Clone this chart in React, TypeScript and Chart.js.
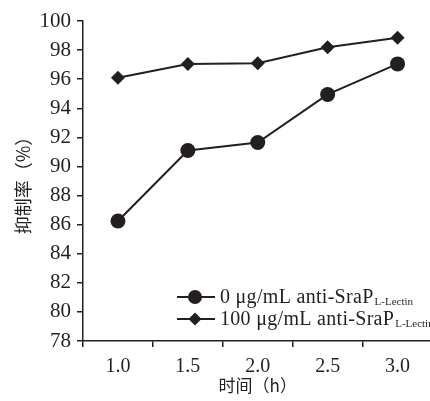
import React, { useEffect, useRef } from 'react';
import { Chart, registerables } from 'chart.js';

Chart.register(...registerables);

const timeLabels = ['1.0', '1.5', '2.0', '2.5', '3.0'];
const controlValues = [86.25, 91.1, 91.65, 94.95, 97.05];
const antibodyValues = [96.1, 97.05, 97.1, 98.2, 98.85];
const yTicksMin = 78;
const yTicksMax = 100;
const yTickStep = 2;
const seriesMain = ['0 μg/mL anti-SraP', '100 μg/mL anti-SraP'];
const seriesSub = ['L-Lectin', 'L-Lectin'];
const seriesMarkers = ['circle', 'rectRot'];
const yTitle = '抑制率（%）';
const xTitle = '时间（h）';

const INK = '#231f20';
const SERIF = '"Liberation Serif", "DejaVu Serif", serif';
const CJK = '"Noto Sans CJK SC", "Noto Sans", sans-serif';

const legendPlugin = {
  id: 'subLegend',
  afterDraw(chart: any) {
    const ctx = chart.ctx;
    const area = chart.chartArea;
    const x0 = area.left + 94;
    const rows = [area.bottom - 44, area.bottom - 22];
    ctx.save();
    rows.forEach((y, i) => {
      ctx.strokeStyle = INK;
      ctx.fillStyle = INK;
      ctx.lineWidth = 2;
      ctx.beginPath();
      ctx.moveTo(x0, y);
      ctx.lineTo(x0 + 38, y);
      ctx.stroke();
      const cx = x0 + 18;
      ctx.beginPath();
      if (seriesMarkers[i] === 'circle') {
        ctx.arc(cx, y, 7, 0, Math.PI * 2);
      } else {
        const r = 6.5;
        ctx.moveTo(cx, y - r);
        ctx.lineTo(cx + r, y);
        ctx.lineTo(cx, y + r);
        ctx.lineTo(cx - r, y);
        ctx.closePath();
      }
      ctx.fill();
      ctx.textBaseline = 'alphabetic';
      ctx.textAlign = 'left';
      ctx.font = `20px ${SERIF}`;
      (ctx as any).letterSpacing = '0.3px';
      const tx = x0 + 43;
      const base = y + 6;
      ctx.fillText(seriesMain[i], tx, base);
      const w = ctx.measureText(seriesMain[i]).width;
      (ctx as any).letterSpacing = '0px';
      ctx.font = `11px ${SERIF}`;
      ctx.fillText(seriesSub[i], tx + w + 1, base + 2);
    });
    ctx.restore();
  },
};

export default function App() {
  const canvasRef = useRef<HTMLCanvasElement | null>(null);

  useEffect(() => {
    if (!canvasRef.current) return;
    const chart = new Chart(canvasRef.current, {
      type: 'line',
      data: {
        labels: timeLabels,
        datasets: [
          {
            label: seriesMain[0] + seriesSub[0],
            data: controlValues,
            borderColor: INK,
            backgroundColor: INK,
            borderWidth: 2,
            pointStyle: 'circle',
            pointRadius: 7.5,
            pointBorderWidth: 0,
            tension: 0,
          },
          {
            label: seriesMain[1] + seriesSub[1],
            data: antibodyValues,
            borderColor: INK,
            backgroundColor: INK,
            borderWidth: 2,
            pointStyle: 'rectRot',
            pointRadius: 7,
            pointBorderWidth: 0,
            tension: 0,
          },
        ],
      },
      options: {
        animation: false,
        responsive: false,
        maintainAspectRatio: false,
        layout: { padding: { top: 21, right: 0, left: 0, bottom: 0 } },
        plugins: {
          legend: { display: false },
          tooltip: { enabled: false },
        },
        scales: {
          x: {
            type: 'category',
            offset: true,
            grid: {
              offset: true,
              drawOnChartArea: false,
              tickLength: 6,
              color: INK,
              lineWidth: 1.5,
            },
            border: { color: INK, width: 1.5 },
            ticks: { color: INK, font: { family: SERIF, size: 20 }, padding: 8 },
            title: {
              display: true,
              text: xTitle,
              color: INK,
              font: { family: CJK, size: 17 },
              padding: { top: 0, bottom: 5 },
            },
            afterFit(scale: any) {
              scale.height = 60;
            },
          },
          y: {
            min: yTicksMin,
            max: yTicksMax,
            grid: {
              drawOnChartArea: false,
              tickLength: 6,
              color: INK,
              lineWidth: 1.5,
            },
            border: { color: INK, width: 1.5 },
            ticks: {
              stepSize: yTickStep,
              color: INK,
              font: { family: SERIF, size: 21 },
              padding: 6,
            },
            title: {
              display: true,
              text: yTitle,
              color: INK,
              font: { family: CJK, size: 18 },
              padding: { top: 12, bottom: 0 },
            },
            afterFit(scale: any) {
              scale.width = 83;
            },
          },
        },
      },
      plugins: [legendPlugin],
    });
    return () => chart.destroy();
  }, []);

  return (
    <div style={{ position: 'absolute', left: 0, top: 0, width: 430, height: 401, overflow: 'hidden', background: '#fff' }}>
      <canvas ref={canvasRef} width={440} height={401} style={{ width: 440, height: 401, display: 'block' }} />
    </div>
  );
}
